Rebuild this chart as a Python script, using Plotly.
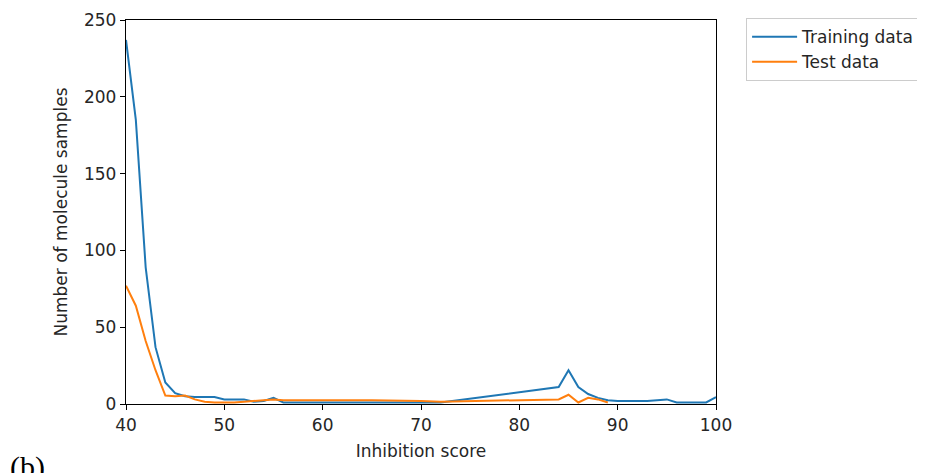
import plotly.graph_objects as go

train_x = [40, 41, 42, 43, 44, 45, 46, 47, 48, 49, 50, 51, 52, 53, 54, 55, 56, 60, 65, 70, 72,
           84, 85, 86, 87, 88, 89, 90, 93, 95, 96, 99, 100]
train_y = [237, 185, 89, 37, 14, 7, 5, 4.5, 4.5, 4.5, 3, 3, 3, 1.5, 2, 4, 1, 1, 1, 1, 1,
           11, 22, 11, 6.5, 4, 2.5, 2, 2, 3, 1, 1, 4.5]

test_x = [40, 41, 42, 43, 44, 45, 46, 47, 48, 49, 50, 51, 52, 53, 54, 55, 56, 60, 65, 70, 72,
          84, 85, 86, 87, 88, 89]
test_y = [77, 64, 41, 22, 5.5, 5, 5.5, 3, 1.5, 1, 1, 1, 1.5, 2, 2.5, 3, 2.5, 2.5, 2.5, 2, 1.5,
          3, 6, 1, 4, 3, 1]

x_ticks = [40, 50, 60, 70, 80, 90, 100]
y_ticks = [0, 50, 100, 150, 200, 250]

font = dict(family="DejaVu Sans", size=17, color="#262626")

fig = go.Figure()
fig.add_trace(go.Scatter(x=train_x, y=train_y, mode="lines", name="Training data",
                         line=dict(color="#1f77b4", width=2)))
fig.add_trace(go.Scatter(x=test_x, y=test_y, mode="lines", name="Test data",
                         line=dict(color="#ff7f0e", width=2)))

axis_common = dict(showline=True, linecolor="black", linewidth=1.3, mirror=True,
                   ticks="outside", ticklen=5, tickcolor="black", tickwidth=1.3,
                   showgrid=False, zeroline=False, tickfont=font)

fig.update_layout(
    width=917, height=465,
    margin=dict(l=118, r=209, t=12, b=69, autoexpand=False),
    paper_bgcolor="white", plot_bgcolor="white",
    font=font,
    xaxis=dict(range=[40, 100], tickvals=x_ticks,
               title=dict(text="Inhibition score", font=font, standoff=11), **axis_common),
    yaxis=dict(range=[0, 250], tickvals=y_ticks,
               title=dict(text="Number of molecule samples", font=font, standoff=12), **axis_common),
    legend=dict(x=1.051, y=1.005, xanchor="left", yanchor="top",
                bordercolor="#cccccc", borderwidth=1, bgcolor="white",
                font=font, tracegroupgap=0, itemwidth=45),
    showlegend=True,
)

fig.add_annotation(text="(b)", xref="paper", yref="paper", x=-118/590, y=-63/384,
                   xanchor="left", yanchor="middle", showarrow=False,
                   font=dict(family="Liberation Serif", size=30, color="black"))

fig.write_html("out.html")
